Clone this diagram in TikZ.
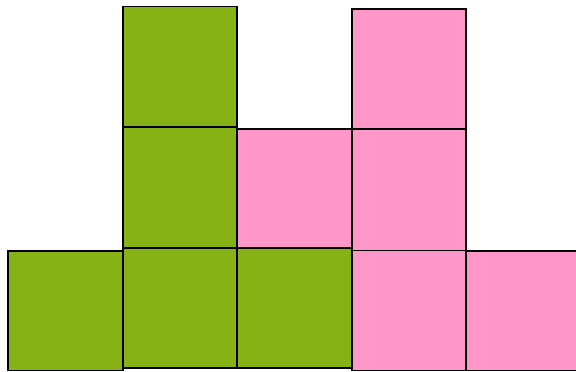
\documentclass[tikz,border=0pt]{standalone}
\usepackage{xcolor}
\usepackage{tikz}
\definecolor{cellgreen}{HTML}{86B216}
\definecolor{cellpink}{HTML}{FF97C8}

\begin{document}
\begin{tikzpicture}[x=1pt,y=-1pt, cell/.style={draw=black,line width=1.8pt}, gcell/.style={cell,fill=cellgreen}, pcell/.style={cell,fill=cellpink}]
\useasboundingbox (0,0) rectangle (576,372);
\clip (0,0) rectangle (576,372);
% green stack
\draw[gcell] (8,250.7) rectangle (122.8,370.5); \draw[gcell] (123,248) rectangle (237.3,368); \draw[gcell] (237.3,248) rectangle (352,368);
\draw[gcell] (123,127) rectangle (237.3,248); \draw[gcell] (123,6.5) rectangle (237.3,127);
% pink stack
\draw[pcell] (237.3,129.3) rectangle (352,248); \draw[pcell] (352,9.3) rectangle (466.3,129.3); \draw[pcell] (352,129.3) rectangle (466.3,250.5);
\draw[pcell] (352,250.5) rectangle (466.3,370.5); \draw[pcell] (466.3,250.7) rectangle (590,370.5);
\end{tikzpicture}
\end{document}
